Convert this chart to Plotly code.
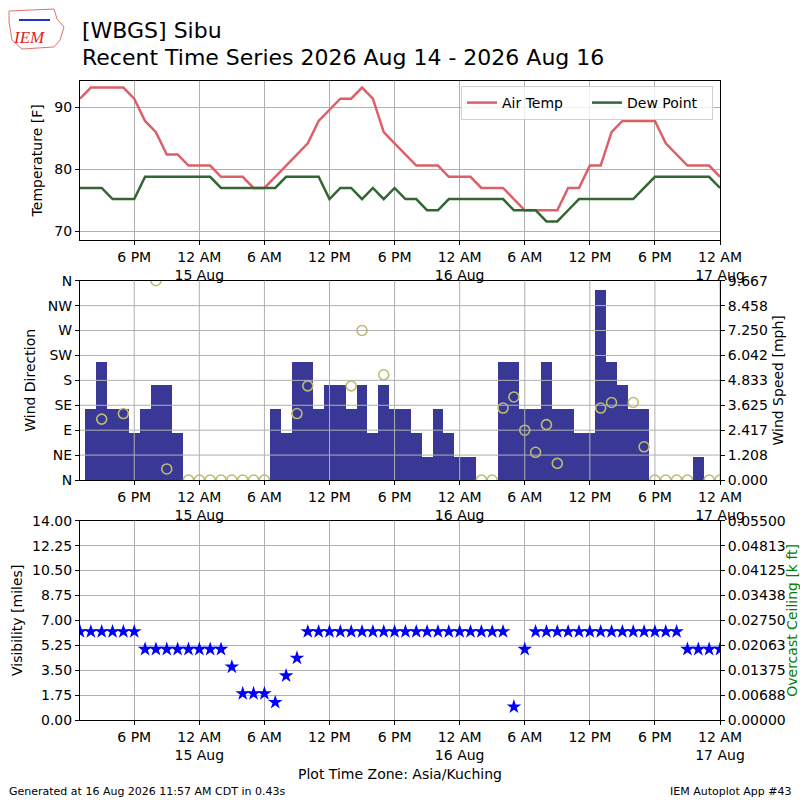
import pandas as pd
import plotly.graph_objects as go

# hourly observations, Asia/Kuching local time
times = pd.date_range("2026-08-14 13:00", "2026-08-17 00:00", freq="h")

air_temp = [91.4, 93.2, 93.2, 93.2, 93.2, 91.4, 87.8, 86.0, 82.4, 82.4, 80.6,
            80.6, 80.6, 78.8, 78.8, 78.8, 77.0, 77.0, 78.8, 80.6, 82.4, 84.2, 87.8,
            89.6, 91.4, 91.4, 93.2, 91.4, 86.0, 84.2, 82.4, 80.6, 80.6, 80.6, 78.8,
            78.8, 78.8, 77.0, 77.0, 77.0, 75.2, 73.4, 73.4, 73.4, 73.4, 77.0, 77.0,
            80.6, 80.6, 86.0, 87.8, 87.8, 87.8, 87.8, 84.2, 82.4, 80.6, 80.6, 80.6,
            78.8]
dew_point = [77.0, 77.0, 77.0, 75.2, 75.2, 75.2, 78.8, 78.8, 78.8, 78.8, 78.8,
             78.8, 78.8, 77.0, 77.0, 77.0, 77.0, 77.0, 77.0, 78.8, 78.8, 78.8, 78.8,
             75.2, 77.0, 77.0, 75.2, 77.0, 75.2, 77.0, 75.2, 75.2, 73.4, 73.4, 75.2,
             75.2, 75.2, 75.2, 75.2, 75.2, 73.4, 73.4, 73.4, 71.6, 71.6, 73.4, 75.2,
             75.2, 75.2, 75.2, 75.2, 75.2, 77.0, 78.8, 78.8, 78.8, 78.8, 78.8, 78.8,
             77.0]
wind_speed = [0, 3.45, 5.75, 3.45, 3.45, 2.30, 3.45, 4.60, 4.60, 2.30, 0,
              0, 0, 0, 0, 0, 0, 0, 3.45, 2.30, 5.75, 5.75, 3.45, 4.60,
              4.60, 3.45, 4.60, 2.30, 4.60, 3.45, 3.45, 2.30, 1.15, 3.45, 2.30,
              1.15, 1.15, 0, 0, 5.75, 5.75, 3.45, 3.45, 5.75, 3.45, 3.45, 2.30,
              2.30, 9.21, 5.75, 4.60, 3.45, 3.45, 0, 0, 0, 0, 1.15, 0,
              0]
wind_dir = [None, None, 110, None, 120, None, None, 360, 20, None, 0,
            0, 0, 0, 0, 0, 0, 0, None, None, 120, 170, None, None,
            None, 170, 270, None, 190, None, None, None, None, None, None,
            None, None, 0, 0, 130, 150, 90, 50, 100, 30, None, None,
            None, 130, 140, None, 140, 60, 0, 0, 0, 0, None, 0,
            0]
visibility = [6.21, 6.21, 6.21, 6.21, 6.21, 6.21, 4.97, 4.97, 4.97, 4.97, 4.97,
              4.97, 4.97, 4.97, 3.73, 1.86, 1.86, 1.86, 1.24, 3.11, 4.35, 6.21, 6.21,
              6.21, 6.21, 6.21, 6.21, 6.21, 6.21, 6.21, 6.21, 6.21, 6.21, 6.21, 6.21,
              6.21, 6.21, 6.21, 6.21, 6.21, 0.93, 4.97, 6.21, 6.21, 6.21, 6.21, 6.21,
              6.21, 6.21, 6.21, 6.21, 6.21, 6.21, 6.21, 6.21, 6.21, 4.97, 4.97, 4.97,
              4.97]

tick_times = pd.date_range("2026-08-14 18:00", "2026-08-17 00:00", freq="6h")
tick_text = ["6 PM", "12 AM<br>15 Aug", "6 AM", "12 PM", "6 PM", "12 AM<br>16 Aug",
             "6 AM", "12 PM", "6 PM", "12 AM<br>17 Aug"]
dir_ticks = [0, 45, 90, 135, 180, 225, 270, 315, 360]
dir_text = ["N", "NE", "E", "SE", "S", "SW", "W", "NW", "N"]
speed_ticks = [0.0, 1.208, 2.417, 3.625, 4.833, 6.042, 7.250, 8.458, 9.667]
vis_ticks = [0.0, 1.75, 3.5, 5.25, 7.0, 8.75, 10.5, 12.25, 14.0]
ceil_ticks = [0.0, 0.006875, 0.01375, 0.020625, 0.0275, 0.034375, 0.04125,
              0.048125, 0.055]

FONT = "DejaVu Sans"
GRID = "#b0b0b0"
FS = 14


def px(x, y):
    # pixel position -> paper coords (plot area is 80..720 both ways)
    return (x - 80) / 640.0, (720 - y) / 640.0


xrange_ = ["2026-08-14 13:00", "2026-08-17 00:00"]

fig = go.Figure()

fig.add_trace(go.Scatter(x=times, y=air_temp, mode="lines", name="Air Temp",
                         line=dict(color="#dc6068", width=2.5),
                         xaxis="x", yaxis="y"))
fig.add_trace(go.Scatter(x=times, y=dew_point, mode="lines", name="Dew Point",
                         line=dict(color="#336633", width=2.5),
                         xaxis="x", yaxis="y"))

# wind: speed bars on base axis (right), direction circles on overlay (left)
fig.add_trace(go.Bar(x=times, y=wind_speed, width=3600000, showlegend=False,
                     marker=dict(color="#393897", line=dict(width=0)),
                     xaxis="x2", yaxis="y2"))
fig.add_trace(go.Scatter(x=times, y=wind_dir, mode="markers", showlegend=False,
                         marker=dict(symbol="circle-open", size=10,
                                     color="#bcbc6c", line=dict(width=1.6)),
                         xaxis="x2", yaxis="y4"))

fig.add_trace(go.Scatter(x=times, y=visibility, mode="markers", showlegend=False,
                         marker=dict(symbol="star", size=11, color="#0000ff"),
                         xaxis="x3", yaxis="y3"))
fig.add_trace(go.Scatter(x=[times[0]], y=[None], mode="markers", showlegend=False,
                         xaxis="x3", yaxis="y5"))

axis_common = dict(showline=True, linecolor="black", linewidth=1, mirror=True,
                   ticks="outside", tickcolor="black", ticklen=4,
                   gridcolor=GRID, gridwidth=1, zeroline=False,
                   tickfont=dict(family=FONT, size=FS, color="black"))

xax = dict(axis_common, type="date", range=xrange_, tickmode="array",
           tickvals=tick_times, ticktext=tick_text)

p1 = px(0, 240)[1], px(0, 80.7)[1]
p2 = px(0, 480)[1], px(0, 280.7)[1]
p3 = px(0, 720)[1], px(0, 520.7)[1]

fig.update_layout(
    width=800, height=800,
    margin=dict(l=80, r=80, t=80, b=80, autoexpand=False),
    paper_bgcolor="white", plot_bgcolor="white",
    font=dict(family=FONT, size=FS, color="black"),
    barmode="overlay", bargap=0,
    xaxis=dict(xax, anchor="y", domain=[0, 1]),
    xaxis2=dict(xax, anchor="y2", domain=[0, 1], showgrid=False),
    xaxis3=dict(xax, anchor="y3", domain=[0, 1]),
    yaxis=dict(axis_common, domain=list(p1), range=[68.6, 94.3],
               tickvals=[70, 80, 90],
               title=dict(text="Temperature [F]", font=dict(size=FS), standoff=8)),
    yaxis2=dict(axis_common, domain=list(p2), range=[0, 9.667], side="right",
                anchor="x2", mirror=False, showgrid=False,
                tickvals=speed_ticks, ticktext=["%.3f" % v for v in speed_ticks],
                title=dict(text="Wind Speed [mph]", font=dict(size=FS), standoff=6)),
    yaxis4=dict(axis_common, overlaying="y2", side="left", anchor="x2",
                range=[0, 360], showgrid=False,
                tickvals=dir_ticks, ticktext=dir_text,
                title=dict(text="Wind Direction", font=dict(size=FS), standoff=8)),
    yaxis3=dict(axis_common, domain=list(p3), range=[0, 14],
                tickvals=vis_ticks, ticktext=["%.2f" % v for v in vis_ticks],
                title=dict(text="Visibility [miles]", font=dict(size=FS), standoff=6)),
    yaxis5=dict(axis_common, overlaying="y3", side="right", range=[0, 0.055],
                tickvals=ceil_ticks, ticktext=["%.5f" % v for v in ceil_ticks],
                showgrid=False, mirror=False,
                title=dict(text="Overcast Ceiling [k ft]",
                           font=dict(size=FS, color="green"), standoff=8)),
    legend=dict(orientation="h", x=px(713, 0)[0], xanchor="right",
                y=px(0, 86)[1], yanchor="top",
                bordercolor="#d0d0d0", borderwidth=1, bgcolor="rgba(255,255,255,0.8)",
                font=dict(family=FONT, size=FS), entrywidth=80),
    showlegend=True,
)

# wind panel grid drawn over the bars, as in the original
for t in tick_times:
    fig.add_shape(type="line", xref="x2", yref="y2 domain", x0=t, x1=t, y0=0, y1=1,
                  layer="above", line=dict(color=GRID, width=1))
for d in dir_ticks[1:-1]:
    fig.add_shape(type="line", xref="x2 domain", yref="y4", x0=0, x1=1, y0=d, y1=d,
                  layer="above", line=dict(color=GRID, width=1))

# titles
tx, ty = px(80, 30)
fig.add_annotation(text="[WBGS] Sibu", xref="paper", yref="paper", x=tx, y=ty,
                   xanchor="left", yanchor="middle", showarrow=False,
                   font=dict(family=FONT, size=22))
tx, ty = px(80, 57)
fig.add_annotation(text="Recent Time Series 2026 Aug 14 - 2026 Aug 16",
                   xref="paper", yref="paper", x=tx, y=ty,
                   xanchor="left", yanchor="middle", showarrow=False,
                   font=dict(family=FONT, size=22))

# footer
tx, ty = px(400, 774)
fig.add_annotation(text="Plot Time Zone: Asia/Kuching", xref="paper", yref="paper",
                   x=tx, y=ty, xanchor="center", yanchor="middle", showarrow=False,
                   font=dict(family=FONT, size=14))
tx, ty = px(7, 791)
fig.add_annotation(text="Generated at 16 Aug 2026 11:57 AM CDT in 0.43s",
                   xref="paper", yref="paper", x=tx, y=ty, xanchor="left",
                   yanchor="middle", showarrow=False, font=dict(family=FONT, size=11))
tx, ty = px(794, 791)
fig.add_annotation(text="IEM Autoplot App #43", xref="paper", yref="paper",
                   x=tx, y=ty, xanchor="right", yanchor="middle", showarrow=False,
                   font=dict(family=FONT, size=11))

# rough IEM logo
outline = [(9, 11), (54, 9), (57, 19), (64, 27), (60, 40), (54, 47), (22, 49),
           (12, 40), (9, 22)]
path = "M " + " L ".join("%.4f,%.4f" % px(x, y) for x, y in outline) + " Z"
fig.add_shape(type="path", path=path, xref="paper", yref="paper",
              line=dict(color="#e07070", width=1))
lx, ly = px(19, 20)
lx2, ly2 = px(50, 20)
fig.add_shape(type="line", x0=lx, y0=ly, x1=lx2, y1=ly2, xref="paper", yref="paper",
              line=dict(color="#2233cc", width=2))
tx, ty = px(29, 38)
fig.add_annotation(text="<i>IEM</i>", xref="paper", yref="paper", x=tx, y=ty,
                   xanchor="center", yanchor="middle", showarrow=False,
                   font=dict(family="Liberation Serif", size=17, color="#dd2222"))

fig.write_html("out.html", config={"displayModeBar": False},
               post_script="document.body.style.margin='0';")
